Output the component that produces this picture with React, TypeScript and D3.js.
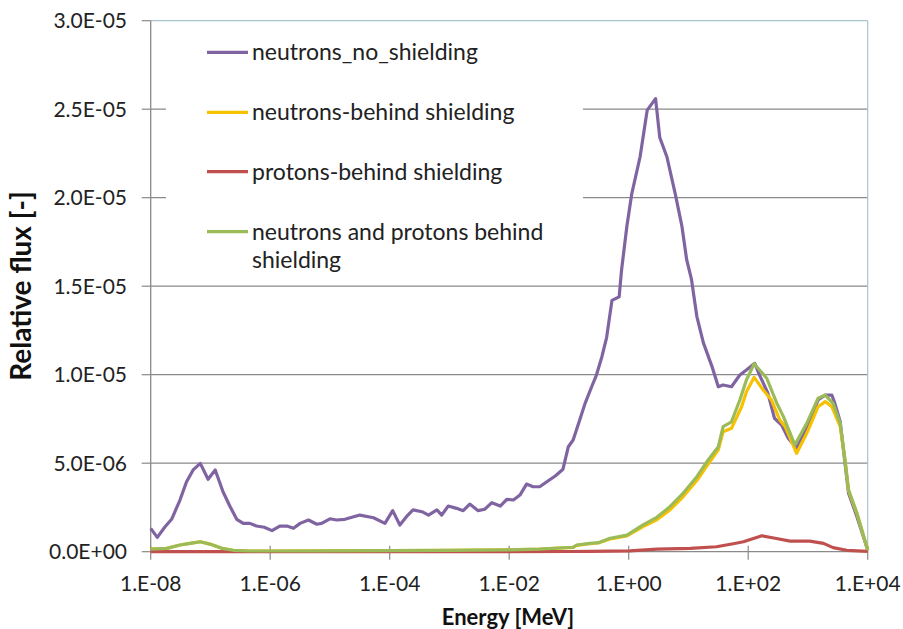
import React from "react";
import * as d3 from "d3";

// Energies are given as log10(E / MeV)
const purpleLogE = [-8.00,-7.89,-7.76,-7.65,-7.51,-7.40,-7.29,-7.17,-7.04,-6.92,-6.79,-6.67,-6.56,-6.45,-6.34,-6.23,-6.10,-5.97,-5.84,-5.72,-5.61,-5.50,-5.36,-5.22,-5.14,-5.00,-4.89,-4.75,-4.50,-4.27,-4.08,-3.95,-3.83,-3.72,-3.61,-3.46,-3.35,-3.21,-3.13,-3.02,-2.88,-2.77,-2.66,-2.52,-2.41,-2.29,-2.15,-2.04,-1.93,-1.82,-1.71,-1.60,-1.49,-1.37,-1.23,-1.10,-1.01,-0.93,-0.82,-0.73,-0.62,-0.54,-0.45,-0.37,-0.28,-0.16,-0.12,-0.03,0.05,0.19,0.31,0.45,0.52,0.64,0.78,0.89,0.97,1.05,1.14,1.25,1.39,1.50,1.58,1.72,1.86,1.97,2.11,2.19,2.33,2.44,2.56,2.67,2.81,2.92,3.03,3.17,3.29,3.40,3.45,3.54,3.62,3.68,3.82,4.00];
const purpleFlux = [1.32,0.81,1.41,1.83,2.92,3.95,4.62,4.99,4.09,4.62,3.39,2.54,1.83,1.60,1.60,1.45,1.38,1.19,1.45,1.45,1.32,1.60,1.79,1.55,1.60,1.86,1.79,1.83,2.07,1.92,1.60,2.32,1.51,1.98,2.36,2.26,2.07,2.36,2.07,2.58,2.45,2.32,2.69,2.32,2.40,2.77,2.58,2.96,2.92,3.20,3.82,3.67,3.67,3.95,4.28,4.66,5.93,6.31,7.44,8.38,9.32,9.98,11.0,12.1,14.2,14.4,15.9,18.4,20.2,22.3,24.95,25.6,23.4,22.3,20.2,18.4,16.5,15.4,13.3,11.8,10.5,9.32,9.42,9.32,9.98,10.27,10.64,9.98,8.95,7.54,7.16,6.41,5.84,6.59,7.34,8.57,8.85,8.85,8.38,7.34,4.99,3.30,1.98,0.10];

const yellowLogE = [-8.00,-7.73,-7.51,-7.34,-7.17,-7.01,-6.81,-6.62,-6.34,-6.00,-5.00,-4.00,-3.00,-2.00,-1.49,-0.93,-0.87,-0.65,-0.51,-0.31,-0.03,0.24,0.47,0.69,0.91,1.14,1.33,1.50,1.58,1.72,1.89,1.97,2.10,2.25,2.39,2.53,2.62,2.81,2.98,3.17,3.29,3.40,3.54,3.62,3.68,3.82,4.00];
const yellowFlux = [0.14,0.19,0.38,0.47,0.56,0.43,0.19,0.08,0.04,0.04,0.05,0.06,0.08,0.10,0.14,0.24,0.36,0.45,0.49,0.72,0.89,1.42,1.80,2.36,3.10,4.02,4.95,5.75,6.78,6.97,8.19,9.04,9.85,9.14,8.57,7.44,7.06,5.56,6.69,8.19,8.48,8.19,7.06,5.18,3.45,2.15,0.10];

const redLogE = [-8.00,-2.00,-1.00,-0.65,0.02,0.47,1.03,1.47,1.75,1.92,2.23,2.45,2.70,3.03,3.26,3.42,3.65,4.00];
const redFlux = [0.00,0.00,0.01,0.02,0.05,0.14,0.19,0.28,0.45,0.56,0.90,0.76,0.60,0.60,0.47,0.23,0.08,0.02];

const greenLogE = [-8.00,-7.73,-7.51,-7.34,-7.17,-7.01,-6.81,-6.62,-6.34,-6.00,-5.00,-4.00,-3.00,-2.00,-1.49,-0.93,-0.87,-0.65,-0.51,-0.31,-0.03,0.24,0.47,0.69,0.91,1.14,1.33,1.50,1.58,1.72,1.86,1.97,2.10,2.31,2.48,2.59,2.78,2.98,3.17,3.29,3.42,3.54,3.62,3.68,3.82,4.00];
const greenFlux = [0.14,0.19,0.38,0.47,0.56,0.43,0.19,0.08,0.04,0.04,0.05,0.06,0.08,0.10,0.14,0.25,0.38,0.47,0.51,0.76,0.94,1.51,1.94,2.54,3.30,4.24,5.18,5.93,7.06,7.34,8.57,9.70,10.62,9.80,8.38,7.63,6.03,7.25,8.67,8.85,8.38,7.25,5.18,3.49,2.17,0.10];

const seriesNames = [
  "neutrons_no_shielding",
  "neutrons-behind shielding",
  "protons-behind shielding",
  "neutrons and protons behind shielding",
];
const seriesColors = ["#8064A2", "#F5C100", "#C0504D", "#9BBB59"];

const xTickLabels = ["1.E-08", "1.E-06", "1.E-04", "1.E-02", "1.E+00", "1.E+02", "1.E+04"];
const xTickValues = [1e-8, 1e-6, 1e-4, 1e-2, 1, 1e2, 1e4];
const yTickValues = [0, 5e-6, 1e-5, 1.5e-5, 2e-5, 2.5e-5, 3e-5];
const yTickLabels = ["0.0E+00", "5.0E-06", "1.0E-05", "1.5E-05", "2.0E-05", "2.5E-05", "3.0E-05"];

const FONT = "Lato, 'Open Sans', sans-serif";

export default function App() {
  const W = 903, H = 629;
  const left = 150.7, right = 867.7, top = 20.7, bottom = 551.7;
  const x = d3.scaleLog().domain([1e-8, 1e4]).range([left, right]);
  const y = d3.scaleLinear().domain([0, 3e-5]).range([bottom, top]);

  const mk = (le: number[], v: number[]) =>
    le.map((l, i) => [Math.pow(10, l), v[i] * 1e-6] as [number, number]);
  const series = [
    mk(purpleLogE, purpleFlux),
    mk(yellowLogE, yellowFlux),
    mk(redLogE, redFlux),
    mk(greenLogE, greenFlux),
  ];
  const line = d3
    .line<[number, number]>()
    .x((d) => x(d[0]))
    .y((d) => y(d[1]))
    .curve(d3.curveLinear);

  const legendY = [52.3, 112.3, 171.7, 231.7];

  return (
    <svg
      width={W}
      height={H}
      style={{ position: "fixed", left: 0, top: 0, background: "#fff" }}
      fontFamily={FONT}
    >
      <rect x={0} y={0} width={W} height={H} fill="#fff" />
      {/* gridlines */}
      {yTickValues.slice(1, 6).map((v, i) => (
        <line key={"g" + i} x1={left} x2={right} y1={y(v)} y2={y(v)} stroke="#8a8a8a" strokeWidth={1.2} />
      ))}
      {/* plot border top/right */}
      <line x1={left} x2={right} y1={top} y2={top} stroke="#a9c4cc" strokeWidth={1.2} />
      <line x1={right} x2={right} y1={top} y2={bottom} stroke="#a9c4cc" strokeWidth={1.2} />
      {/* axes */}
      <line x1={left} x2={left} y1={top} y2={bottom} stroke="#8a8a8a" strokeWidth={1.3} />
      <line x1={left} x2={right} y1={bottom} y2={bottom} stroke="#8a8a8a" strokeWidth={1.3} />
      {yTickValues.map((v, i) => (
        <line key={"yt" + i} x1={left - 9} x2={left} y1={y(v)} y2={y(v)} stroke="#8a8a8a" strokeWidth={1.2} />
      ))}
      {xTickValues.map((v, i) => (
        <line key={"xt" + i} x1={x(v)} x2={x(v)} y1={bottom - 6} y2={bottom + 8} stroke="#8a8a8a" strokeWidth={1.2} />
      ))}
      {/* tick labels */}
      {yTickValues.map((v, i) => (
        <text key={"yl" + i} x={127} y={y(v)} dy="0.35em" textAnchor="end" fontSize={21} fill="#222">
          {yTickLabels[i]}
        </text>
      ))}
      {xTickValues.map((v, i) => (
        <text key={"xl" + i} x={x(v)} y={591} textAnchor="middle" fontSize={21} fill="#222">
          {xTickLabels[i]}
        </text>
      ))}
      {/* axis titles */}
      <text x={508} y={625} textAnchor="middle" fontSize={22} fontWeight="bold" fill="#111">
        Energy [MeV]
      </text>
      <text
        transform={`translate(31,286) rotate(-90)`}
        textAnchor="middle"
        fontSize={28}
        fontWeight="bold"
        fill="#111"
      >
        Relative flux [-]
      </text>
      {/* series */}
      {series.map((s, i) => (
        <path key={"s" + i} d={line(s) || ""} fill="none" stroke={seriesColors[i]} strokeWidth={3.2} strokeLinejoin="round" />
      ))}
      {/* legend */}
      <rect x={166} y={28} width={417} height={250} fill="#fff" />
      {seriesNames.map((n, i) => (
        <g key={"lg" + i}>
          <line x1={207} x2={248} y1={legendY[i]} y2={legendY[i]} stroke={seriesColors[i]} strokeWidth={3.2} />
          {i < 3 ? (
            <text x={252} y={legendY[i]} dy="0.35em" fontSize={23} fill="#222">
              {n}
            </text>
          ) : (
            <text x={252} y={legendY[i]} dy="0.35em" fontSize={23} fill="#222">
              <tspan x={252}>neutrons and protons behind</tspan>
              <tspan x={252} dy={28}>shielding</tspan>
            </text>
          )}
        </g>
      ))}
    </svg>
  );
}
